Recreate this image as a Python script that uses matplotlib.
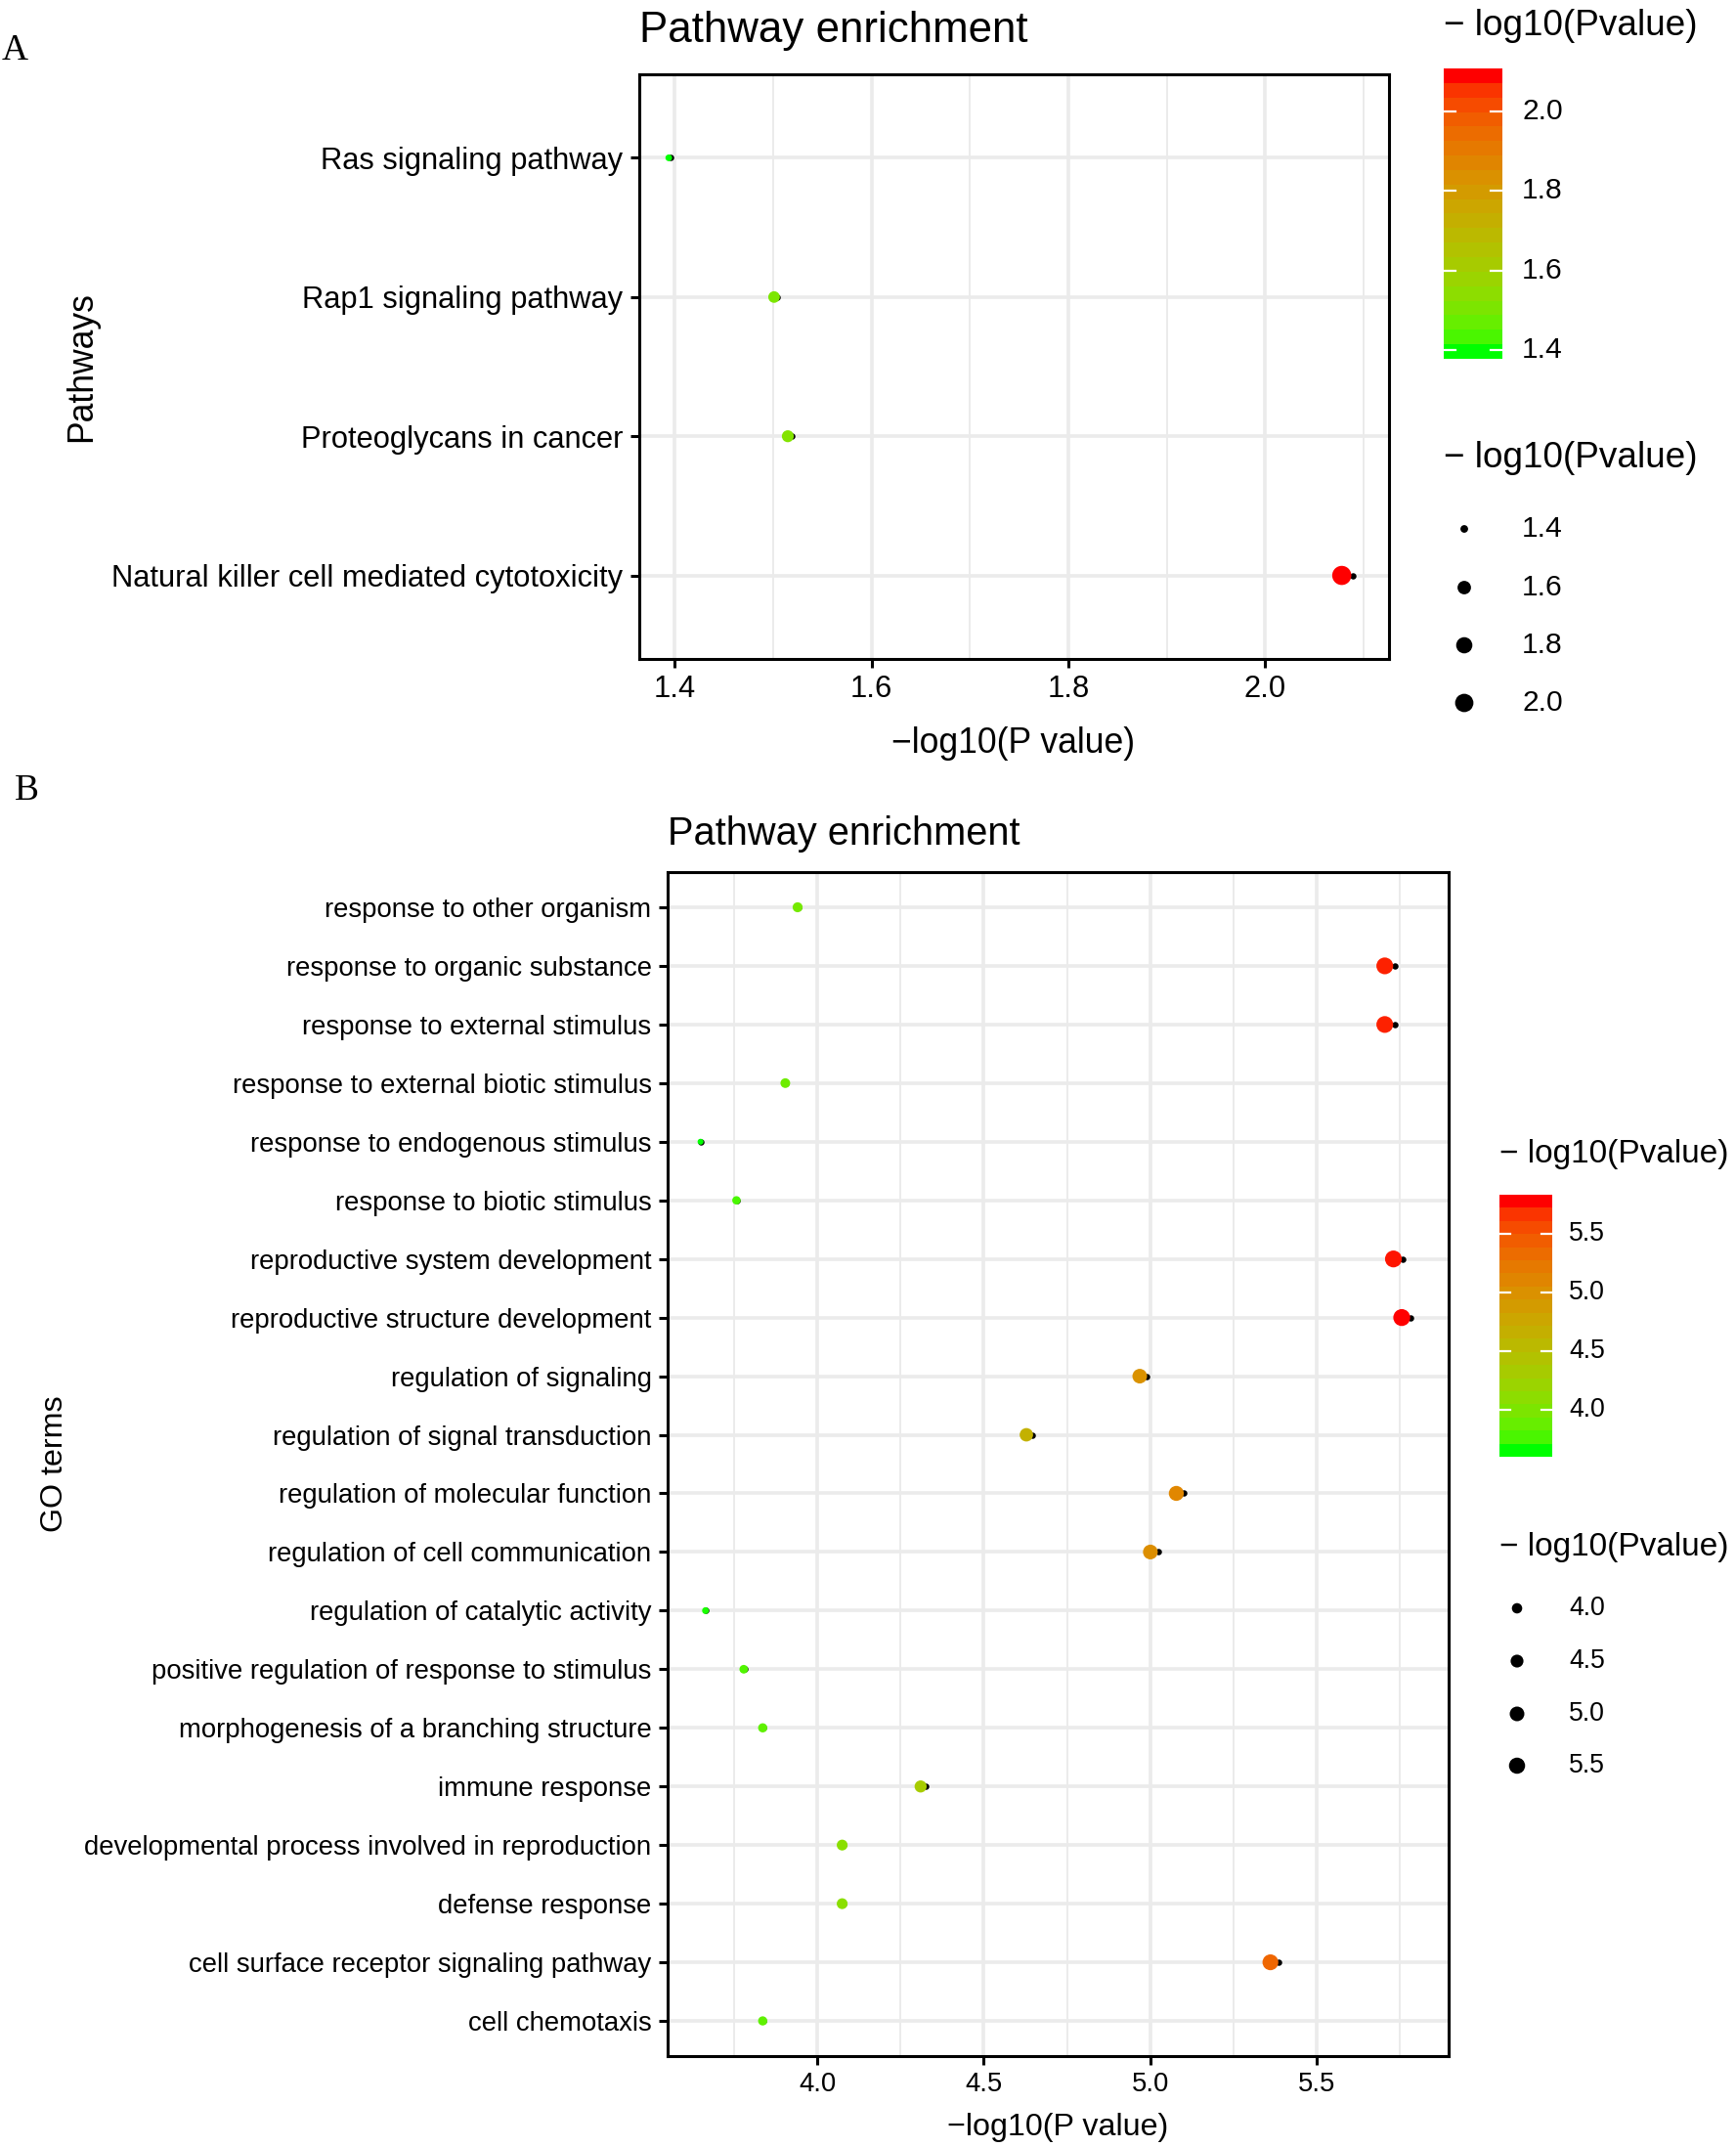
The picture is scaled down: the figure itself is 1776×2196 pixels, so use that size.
import numpy as np
import matplotlib
matplotlib.use("Agg")
import matplotlib.pyplot as plt

plt.rcParams['font.family'] = ['Liberation Sans', 'DejaVu Sans']

# ---------------- data ----------------
a_terms = ["Ras signaling pathway", "Rap1 signaling pathway",
           "Proteoglycans in cancer", "Natural killer cell mediated cytotoxicity"]
a_dot = [1.394, 1.501, 1.515, 2.078]      # coloured point position
a_value = [1.396, 1.504, 1.519, 2.089]    # -log10(Pvalue) (black marker, colour, size)
a_xticks = [1.4, 1.6, 1.8, 2.0]
a_cbar_breaks = [1.4, 1.6, 1.8, 2.0]
a_size_breaks = [1.4, 1.6, 1.8, 2.0]

b_terms = ["response to other organism", "response to organic substance",
           "response to external stimulus", "response to external biotic stimulus",
           "response to endogenous stimulus", "response to biotic stimulus",
           "reproductive system development", "reproductive structure development",
           "regulation of signaling", "regulation of signal transduction",
           "regulation of molecular function", "regulation of cell communication",
           "regulation of catalytic activity", "positive regulation of response to stimulus",
           "morphogenesis of a branching structure", "immune response",
           "developmental process involved in reproduction", "defense response",
           "cell surface receptor signaling pathway", "cell chemotaxis"]
b_dot = [3.940, 5.706, 5.706, 3.903, 3.648, 3.756, 5.732, 5.757, 4.969, 4.628,
         5.079, 5.001, 3.663, 3.778, 3.835, 4.310, 4.074, 4.074, 5.362, 3.835]
b_value = [3.942, 5.735, 5.735, 3.905, 3.650, 3.758, 5.759, 5.783, 4.990, 4.646,
           5.102, 5.024, 3.665, 3.780, 3.837, 4.326, 4.078, 4.078, 5.387, 3.837]
b_xticks = [4.0, 4.5, 5.0, 5.5]
b_cbar_breaks = [4.0, 4.5, 5.0, 5.5]
b_size_breaks = [4.0, 4.5, 5.0, 5.5]

# ---------------- helpers ----------------
W, H, DPI = 1776, 2196, 200
fig = plt.figure(figsize=(W / DPI, H / DPI), dpi=DPI)
M = np.array([[0.4124564, 0.3575761, 0.1804375],
              [0.2126729, 0.7151522, 0.0721750],
              [0.0193339, 0.1191920, 0.9503041]])
WP = np.array([0.95047, 1.0, 1.08883])
D = 6 / 29


def srgb_to_lab(rgb):
    rgb = np.asarray(rgb, float)
    lin = np.where(rgb <= 0.04045, rgb / 12.92, ((rgb + 0.055) / 1.055) ** 2.4)
    t = (lin @ M.T) / WP
    f = np.where(t > D ** 3, np.cbrt(t), t / (3 * D * D) + 4 / 29)
    return np.stack([116 * f[..., 1] - 16, 500 * (f[..., 0] - f[..., 1]),
                     200 * (f[..., 1] - f[..., 2])], -1)


def lab_to_srgb(lab):
    fy_ = (lab[..., 0] + 16) / 116
    fx_ = fy_ + lab[..., 1] / 500
    fz_ = fy_ - lab[..., 2] / 200
    finv = lambda f: np.where(f > D, f ** 3, 3 * D * D * (f - 4 / 29))
    xyz = np.stack([finv(fx_), finv(fy_), finv(fz_)], -1) * WP
    lin = np.clip(xyz @ np.linalg.inv(M).T, 0, 1)
    rgb = np.where(lin <= 0.0031308, 12.92 * lin, 1.055 * lin ** (1 / 2.4) - 0.055)
    return np.clip(rgb, 0, 1)


LAB_LO = srgb_to_lab([0, 1, 0])
LAB_HI = srgb_to_lab([1, 0, 0])


def ramp(t):
    t = np.clip(np.asarray(t, float), 0, 1)[..., None]
    return lab_to_srgb(LAB_LO + t * (LAB_HI - LAB_LO))


def px_rect(l, t, r, b):
    return [l / W, 1 - b / H, (r - l) / W, (b - t) / H]


def ftext(x, y, s, **kw):
    fig.text(x / W, 1 - y / H, s, **kw)


def size_px(v, lo, hi, a, b):
    s = 1 + 5 * np.sqrt(np.clip((np.asarray(v) - lo) / (hi - lo), 0, 1))
    return a + b * s


def to_s(d_px):
    return (np.asarray(d_px) * 72 / DPI) ** 2


overlay = fig.add_axes([0, 0, 1, 1], zorder=10)
overlay.set_xlim(0, W)
overlay.set_ylim(H, 0)
overlay.axis('off')
overlay.patch.set_alpha(0)

MINUS = "\u2212"


def panel(rect, terms, xdot, value, xticks, xlim, tick_fs, title, title_fs, title_xy,
          ylab, ylab_xy, xlab_xy, axis_fs, sa, sb):
    ax = fig.add_axes(px_rect(*rect))
    n = len(terms)
    y = np.arange(n)[::-1]
    lo, hi = min(value), max(value)
    cols = ramp((np.array(value) - lo) / (hi - lo))
    ax.scatter(value, y, s=to_s(6.5), color='black', zorder=2.5, linewidths=0)
    ax.scatter(xdot, y, s=to_s(size_px(value, lo, hi, sa, sb)), color=cols,
               zorder=3, linewidths=0)
    ax.set_xlim(*xlim)
    ax.set_ylim(-0.6, n - 0.4)
    ax.set_yticks(y)
    ax.set_yticklabels(terms, fontsize=tick_fs)
    ax.set_xticks(xticks)
    ax.set_xticklabels([f"{v:.1f}" for v in xticks], fontsize=tick_fs)
    step = xticks[1] - xticks[0]
    minors = np.arange(xticks[0] - step / 2, xlim[1], step)
    ax.set_xticks([m for m in minors if xlim[0] < m < xlim[1]], minor=True)
    ax.grid(which='major', color='#EBEBEB', lw=1.3)
    ax.grid(which='minor', axis='x', color='#EBEBEB', lw=0.7)
    ax.set_axisbelow(True)
    ax.tick_params(which='major', length=3.4, width=1.1, color='black', pad=2.5,
                   labelcolor='black')
    ax.tick_params(which='minor', length=0)
    for sp in ax.spines.values():
        sp.set_linewidth(1.1)
        sp.set_color('black')
    ftext(title_xy[0], title_xy[1], title, fontsize=title_fs, ha='left', va='center')
    ftext(ylab_xy[0], ylab_xy[1], ylab, fontsize=axis_fs, rotation=90,
          ha='center', va='center')
    ftext(xlab_xy[0], xlab_xy[1], MINUS + "log10(P value)", fontsize=axis_fs,
          ha='center', va='center')
    return lo, hi


def legends(lo, hi, cbar_rect, breaks, sbreaks, title_fs, lab_fs, title1_y,
            title2_y, title_x, lab_x, dot_x, dot_ys, sa, sb, nbin=20):
    cax = fig.add_axes(px_rect(*cbar_rect))
    ext = (hi - lo) / (nbin - 1) / 2
    vals = np.linspace(lo, hi, nbin)
    img = ramp((vals - lo) / (hi - lo))[::-1][:, None, :]
    cax.imshow(img, extent=[0, 1, lo - ext, hi + ext], aspect='auto',
               interpolation='nearest')
    cax.set_xlim(0, 1)
    cax.set_ylim(lo - ext, hi + ext)
    for bv in breaks:
        cax.plot([0, 0.2], [bv, bv], color='white', lw=0.8)
        cax.plot([0.8, 1], [bv, bv], color='white', lw=0.8)
    cax.set_xticks([])
    cax.set_yticks([])
    for sp in cax.spines.values():
        sp.set_visible(False)
    for bv in breaks:
        ypx = cbar_rect[1] + (hi + ext - bv) / (2 * ext + hi - lo) * (cbar_rect[3] - cbar_rect[1])
        ftext(lab_x, ypx, f"{bv:.1f}", fontsize=lab_fs, ha='left', va='center')
    ttl = MINUS + " log10(Pvalue)"
    ftext(title_x, title1_y, ttl, fontsize=title_fs, ha='left', va='center')
    ftext(title_x, title2_y, ttl, fontsize=title_fs, ha='left', va='center')
    d = size_px(sbreaks, lo, hi, sa, sb)
    overlay.scatter([dot_x] * len(sbreaks), dot_ys, s=to_s(d), color='black',
                    linewidths=0)
    for bv, yy in zip(sbreaks, dot_ys):
        ftext(lab_x, yy, f"{bv:.1f}", fontsize=lab_fs, ha='left', va='center')


# ---------------- panel A ----------------
loA, hiA = panel((654, 76, 1421, 674), a_terms, a_dot, a_value, a_xticks,
                 (1.364, 2.126), 11.1, "Pathway enrichment", 15.8, (654, 31),
                 "Pathways", (84, 375), (1037, 760), 12.8, 4.3, 2.55)
legends(loA, hiA, (1477, 70, 1537, 367), a_cbar_breaks, a_size_breaks, 13.3, 10.8,
        27, 469, 1477, 1557, 1498, [541, 601, 660, 719], 4.3, 2.55)

# ---------------- panel B ----------------
loB, hiB = panel((683, 892, 1482, 2103), b_terms, b_dot, b_value, b_xticks,
                 (3.549, 5.898), 9.9, "Pathway enrichment", 14.3, (683, 853),
                 "GO terms", (56, 1497), (1082, 2176), 11.6, 3.8, 2.25)
legends(loB, hiB, (1534, 1222, 1588, 1490), b_cbar_breaks, b_size_breaks, 12.0, 9.6,
        1180, 1582, 1534, 1605, 1552, [1645, 1699, 1753, 1806], 3.8, 2.25)

# panel letters
ftext(2, 52, "A", fontsize=13.5, family=['Liberation Serif', 'DejaVu Serif'],
      ha='left', va='center')
ftext(15, 809, "B", fontsize=13.5, family=['Liberation Serif', 'DejaVu Serif'],
      ha='left', va='center')

fig.savefig("out.png", dpi=DPI)
